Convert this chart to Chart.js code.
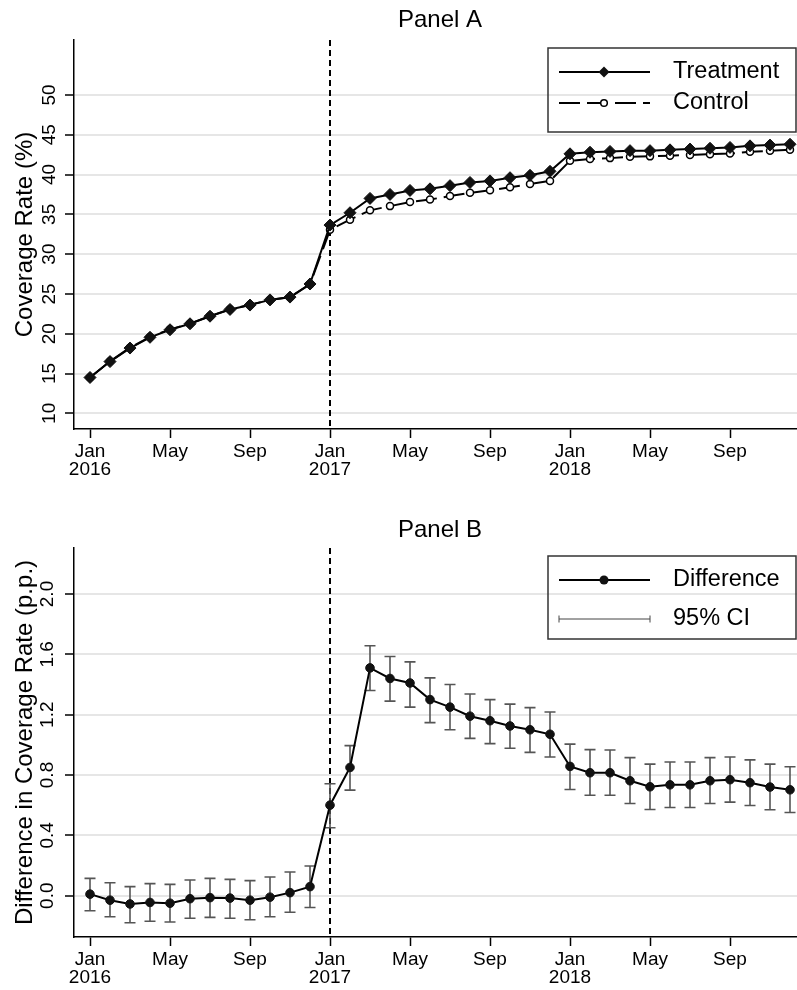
<!DOCTYPE html>
<html><head><meta charset="utf-8">
<script src="https://cdn.jsdelivr.net/npm/chart.js@4.4.1/dist/chart.umd.min.js"></script>
<style>
html,body{margin:0;padding:0;overflow:hidden;background:#fff;width:797px;height:990px;}
canvas{display:block;}
</style></head><body>
<canvas id="a" width="880" height="495"></canvas>
<canvas id="b" width="880" height="495"></canvas>
<script>
// ---- categories ----
const months = ["2016-01","2016-02","2016-03","2016-04","2016-05","2016-06","2016-07","2016-08","2016-09","2016-10","2016-11","2016-12",
  "2017-01","2017-02","2017-03","2017-04","2017-05","2017-06","2017-07","2017-08","2017-09","2017-10","2017-11","2017-12",
  "2018-01","2018-02","2018-03","2018-04","2018-05","2018-06","2018-07","2018-08","2018-09","2018-10","2018-11","2018-12"];
const eventMonth = "2017-01";

// ---- Panel A series (%) ----
const treatment = [14.5,16.5,18.2,19.55,20.5,21.25,22.2,23.05,23.6,24.25,24.6,26.25,
  33.65,35.2,37.0,37.5,38.0,38.2,38.6,39.0,39.2,39.6,39.9,40.4,
  42.6,42.8,42.9,43.0,43.0,43.1,43.2,43.3,43.4,43.6,43.7,43.8];
const control = [14.49,16.53,18.26,19.6,20.55,21.27,22.21,23.07,23.63,24.26,24.58,26.19,
  33.05,34.33,35.5,36.03,36.55,36.85,37.3,37.7,38.02,38.4,38.8,39.2,
  41.72,41.95,42.06,42.22,42.28,42.37,42.46,42.55,42.63,42.85,42.98,43.1];

// ---- Panel B series (p.p.) ----
const difference = [0.01,-0.03,-0.055,-0.045,-0.05,-0.02,-0.013,-0.016,-0.03,-0.01,0.02,0.06,
  0.60,0.85,1.51,1.44,1.41,1.30,1.25,1.19,1.16,1.125,1.10,1.07,
  0.857,0.815,0.815,0.762,0.722,0.735,0.735,0.762,0.769,0.749,0.72,0.702];
const ciLow = [-0.10,-0.14,-0.18,-0.17,-0.175,-0.15,-0.144,-0.15,-0.16,-0.14,-0.11,-0.078,
  0.45,0.70,1.36,1.29,1.25,1.147,1.10,1.043,1.008,0.977,0.95,0.919,
  0.704,0.666,0.666,0.611,0.571,0.585,0.585,0.611,0.62,0.598,0.57,0.551];
const ciHigh = [0.115,0.086,0.06,0.08,0.075,0.104,0.115,0.108,0.10,0.124,0.157,0.197,
  0.742,0.995,1.657,1.586,1.55,1.444,1.40,1.337,1.30,1.27,1.247,1.218,
  1.005,0.968,0.966,0.915,0.872,0.886,0.886,0.915,0.919,0.90,0.872,0.855];

// ---- ticks ----
const xTickMonths = ["2016-01","2016-05","2016-09","2017-01","2017-05","2017-09","2018-01","2018-05","2018-09"];
const xTickLabels = [["Jan","2016"],"May","Sep",["Jan","2017"],"May","Sep",["Jan","2018"],"May","Sep"];
const yTicksA = [10,15,20,25,30,35,40,45,50];
const yTicksB = [0,0.4,0.8,1.2,1.6,2.0];

Chart.defaults.font.family = "'Liberation Sans', Arial, Helvetica, sans-serif";
Chart.defaults.color = '#000';

const xIdx = m => months.indexOf(m);
const pts = arr => arr.map((v,i)=>({x:i,y:v}));

const refLine = {
  id:'refLine',
  beforeDatasetsDraw(chart){
    const {ctx, chartArea:a, scales:{x}} = chart;
    const px = x.getPixelForValue(xIdx(eventMonth));
    ctx.save();
    ctx.strokeStyle='#000'; ctx.lineWidth=2; ctx.setLineDash([6,4]);
    ctx.beginPath(); ctx.moveTo(px,a.top); ctx.lineTo(px,a.bottom); ctx.stroke();
    ctx.restore();
  }
};

const errorBars = {
  id:'errorBars',
  beforeDatasetsDraw(chart){
    const {ctx, scales:{x,y}} = chart;
    ctx.save();
    ctx.strokeStyle='#555'; ctx.lineWidth=1.6;
    ciLow.forEach((lo,i)=>{
      const px=x.getPixelForValue(i), t=y.getPixelForValue(ciHigh[i]), b=y.getPixelForValue(lo);
      ctx.beginPath();
      ctx.moveTo(px,t); ctx.lineTo(px,b);
      ctx.moveTo(px-5.5,t); ctx.lineTo(px+5.5,t);
      ctx.moveTo(px-5.5,b); ctx.lineTo(px+5.5,b);
      ctx.stroke();
    });
    ctx.restore();
  }
};

function diamond(ctx,x,y,r){ctx.beginPath();ctx.moveTo(x-r,y);ctx.lineTo(x,y-r);ctx.lineTo(x+r,y);ctx.lineTo(x,y+r);ctx.closePath();}

const boxLegend = {
  id:'boxLegend',
  afterDraw(chart, args, opts){
    const {ctx, chartArea:a} = chart;
    const w=248, h=opts.height;
    const left=a.right-10-w, top=a.top+8;
    ctx.save();
    ctx.strokeStyle='#333'; ctx.lineWidth=1.5;
    ctx.strokeRect(left, top, w, h);
    const k0=left+11, k1=left+102, km=left+56, tx=left+125;
    opts.rows.forEach(r=>{
      const y=top+r.dy;
      ctx.save();
      if(r.kind==='ci'){
        ctx.strokeStyle='#444'; ctx.lineWidth=1;
        ctx.beginPath(); ctx.moveTo(k0,y); ctx.lineTo(k1,y);
        ctx.moveTo(k0,y-3.5); ctx.lineTo(k0,y+3.5);
        ctx.moveTo(k1,y-3.5); ctx.lineTo(k1,y+3.5); ctx.stroke();
      } else {
        ctx.strokeStyle='#000'; ctx.lineWidth=2;
        if(r.dash) ctx.setLineDash(r.dash);
        ctx.beginPath(); ctx.moveTo(k0,y); ctx.lineTo(k1,y); ctx.stroke();
        ctx.setLineDash([]);
        if(r.kind==='diamond'){ctx.fillStyle='#111'; diamond(ctx,km,y,5.5); ctx.fill();}
        if(r.kind==='hollow'){ctx.fillStyle='#fff'; ctx.lineWidth=1.5; ctx.beginPath(); ctx.arc(km,y,3.3,0,Math.PI*2); ctx.fill(); ctx.stroke();}
        if(r.kind==='dot'){ctx.fillStyle='#111'; ctx.beginPath(); ctx.arc(km,y,4.5,0,Math.PI*2); ctx.fill();}
      }
      ctx.restore();
      ctx.fillStyle='#000'; ctx.font="23.5px 'Liberation Sans', Arial, sans-serif";
      ctx.textBaseline='middle'; ctx.textAlign='left';
      ctx.fillText(r.text, tx, y);
    });
    ctx.restore();
  }
};

function xScale(height){
  return {
    type:'linear', min:-0.8, max:35.8,
    afterBuildTicks:s=>{ s.ticks = xTickMonths.map(m=>({value:xIdx(m)})); },
    afterFit:s=>{ s.height=height; },
    ticks:{ autoSkip:false, maxRotation:0, minRotation:0, padding:5, color:'#000',
      font:{size:19, lineHeight:'18px'},
      callback:v=>{ const i=xTickMonths.indexOf(months[v]); return i>=0 ? xTickLabels[i] : ''; } },
    grid:{ drawOnChartArea:false, tickLength:9, tickColor:'#000', tickWidth:1.5 },
    border:{ color:'#000', width:1.5 }
  };
}
function yScale(min,max,ticks,fmt,title){
  return {
    type:'linear', min, max,
    afterBuildTicks:s=>{ s.ticks = ticks.map(v=>({value:v})); },
    afterFit:s=>{ s.width=74; },
    ticks:{ minRotation:90, maxRotation:90, crossAlign:'center', padding:4.5, color:'#000', font:{size:19}, callback:fmt },
    grid:{ color:'#e6e6e6', lineWidth:2, tickLength:9, tickColor:'#000', tickWidth:1.5 },
    border:{ color:'#000', width:1.5 },
    title:{ display:true, text:title, color:'#000', font:{size:24}, padding:{top:10.5,bottom:0} }
  };
}
// invisible right-hand spacer axis (the plot continues past the cropped right edge)
const spacer = {
  type:'linear', position:'right', min:0, max:1,
  afterFit:s=>{ s.width=74; },
  ticks:{ display:false }, grid:{ display:false, drawTicks:false }, border:{ display:false }
};

new Chart(document.getElementById('a'), {
  type:'line',
  data:{ datasets:[
    { label:'Treatment', data:pts(treatment), borderColor:'#000', borderWidth:2, tension:0,
      pointStyle:'rectRot', pointRadius:6, pointBackgroundColor:'#111', pointBorderColor:'#111', pointBorderWidth:1 },
    { label:'Control', data:pts(control), borderColor:'#000', borderWidth:2, borderDash:[21,7], tension:0,
      pointStyle:'circle', pointRadius:3.5, pointBackgroundColor:'#fff', pointBorderColor:'#000', pointBorderWidth:1.5 }
  ]},
  options:{
    responsive:false, animation:false, events:[],
    layout:{ padding:0 },
    plugins:{
      legend:{display:false}, tooltip:{enabled:false},
      title:{ display:true, text:'Panel A', color:'#000', font:{size:24, weight:'normal'}, padding:{top:5.6,bottom:5.6} },
      boxLegend:{ height:84, rows:[
        {text:'Treatment', kind:'diamond', dy:24},
        {text:'Control', kind:'hollow', dash:[21,7], dy:55}
      ]}
    },
    scales:{
      x:xScale(66),
      y:yScale(8.03,56.9,yTicksA,v=>String(v),'Coverage Rate (%)'),
      yR:spacer
    }
  },
  plugins:[refLine, boxLegend]
});

new Chart(document.getElementById('b'), {
  type:'line',
  data:{ datasets:[
    { label:'Difference', data:pts(difference), borderColor:'#000', borderWidth:2, tension:0,
      pointStyle:'circle', pointRadius:4.3, pointBackgroundColor:'#111', pointBorderColor:'#111', pointBorderWidth:1 }
  ]},
  options:{
    responsive:false, animation:false, events:[],
    layout:{ padding:0 },
    plugins:{
      legend:{display:false}, tooltip:{enabled:false},
      title:{ display:true, text:'Panel B', color:'#000', font:{size:24, weight:'normal'}, padding:{top:20.6,bottom:3.6} },
      boxLegend:{ height:83, rows:[
        {text:'Difference', kind:'dot', dy:24},
        {text:'95% CI', kind:'ci', dy:63}
      ]}
    },
    scales:{
      x:xScale(53),
      y:yScale(-0.274,2.305,yTicksB,v=>Number(v).toFixed(1),'Difference in Coverage Rate (p.p.)'),
      yR:spacer
    }
  },
  plugins:[refLine, errorBars, boxLegend]
});
</script>
</body></html>
